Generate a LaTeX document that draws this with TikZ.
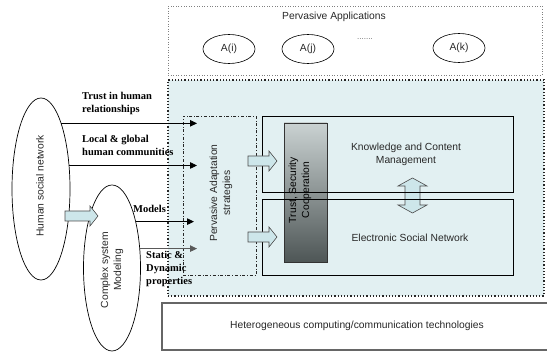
\documentclass[tikz,border=0pt]{standalone}
\usepackage{fontspec}
\setmainfont{Liberation Sans}
\newfontfamily\labelfont{Liberation Serif}
\usetikzlibrary{arrows.meta,shapes.geometric}

\definecolor{boxblue}{RGB}{226,240,242}
\definecolor{arrowblue}{RGB}{205,230,234}
\definecolor{trusttop}{RGB}{202,210,210}
\definecolor{trustbot}{RGB}{78,86,86}
\definecolor{txt}{RGB}{40,40,40}

\begin{document}
\begin{tikzpicture}[x=1pt,y=-1pt,
  sans/.style={font=\fontsize{10.3}{13}\selectfont, text=txt, inner sep=0},
  lbl/.style={font=\labelfont\bfseries\fontsize{10.5}{13}\selectfont, align=left, anchor=west, inner sep=0},
  app/.style={ellipse, draw, line width=0.6pt, minimum width=52pt, minimum height=29pt, inner sep=0, sans},
  bigell/.style={ellipse, draw, line width=0.7pt, fill=white, inner sep=0, outer sep=0},
  thinarr/.style={-{Triangle[length=7pt,width=6.5pt]}, line width=0.8pt},
  blockarr/.style={fill=arrowblue, draw=black!70, line width=0.6pt},
  panel/.style={draw, line width=0.8pt, inner sep=0, outer sep=0},
]
\useasboundingbox (0,0) rectangle (547,352);

% Pervasive applications
\node[draw=black!50, dotted, line width=0.6pt, minimum width=374pt, minimum height=69pt, inner sep=0] (apps) at (355,40.5) {};
\node[sans] (appstitle) at (334,17) {Pervasive Applications};
\node[app] (ai) at (229,49) {A(i)};
\node[app] (aj) at (308,49) {A(j)};
\node[app] (ak) at (459,48) {A(k)};
\node[font=\fontsize{8}{8}\selectfont, text=black!60, inner sep=0] (dots) at (365,39) {.......};

% Big blue region
\node[draw=black!85, dotted, line width=1.2pt, fill=boxblue, minimum width=376pt, minimum height=216pt, inner sep=0] (region) at (356,188) {};

% Trust box
\node[draw=black!80, line width=0.7pt, top color=trusttop, bottom color=trustbot, minimum width=43pt, minimum height=139pt, inner sep=0] (trust) at (305.5,192.5) {};

% double arrow
\filldraw[blockarr] (412.5,178) -- (427,186) -- (420,186) -- (420,205) -- (427,205) -- (412.5,213) -- (398,205) -- (405,205) -- (405,186) -- (398,186) -- cycle;

% Knowledge and ESN
\node[panel, minimum width=251pt, minimum height=76pt] (km) at (387.5,154) {};
\node[panel, minimum width=251pt, minimum height=76pt] (esn) at (387.5,237) {};
\node[sans, align=center] (kmtext) at (406,154.5) {Knowledge and Content\\Management};
\node[sans] (esntext) at (410,238) {Electronic Social Network};
\node[sans, rotate=90, align=center, text=black] (trusttext) at (300,190) {Trust, Security\\Cooperation};

% Adaptation box
\node[draw=black!85, dash dot, line width=0.6pt, minimum width=73pt, minimum height=159pt, inner sep=0] (adapt) at (219.5,195.5) {};
\node[sans, rotate=90, align=center] (adapttext) at (221,193) {Pervasive Adaptation\\strategies};

% block arrows into panels
\filldraw[blockarr] (248,156) -- (269,156) -- (269,151) -- (277,161) -- (269,171) -- (269,166) -- (248,166) -- cycle;
\filldraw[blockarr] (248,232) -- (269,232) -- (269,227) -- (277,237) -- (269,247) -- (269,242) -- (248,242) -- cycle;

% Heterogeneous
\node[draw=black!60, line width=1.3pt, fill=white, minimum width=390pt, minimum height=47pt, inner sep=0] (het) at (357,326.5) {};
\node[sans] (hettext) at (357,326) {Heterogeneous computing/communication technologies};

% Ellipses
\node[bigell, minimum width=58pt, minimum height=182pt] (hsn) at (41,189) {};
\node[sans, rotate=90] (hsntext) at (40,186) {Human social network};
\node[bigell, minimum width=57pt, minimum height=166pt] (csm) at (112,268) {};
\node[sans, rotate=90, align=center] (csmtext) at (112,270) {Complex system\\Modeling};

% block arrow hsn -> csm
\filldraw[blockarr] (65,211) -- (90,211) -- (90,206) -- (98,216) -- (90,226) -- (90,221) -- (65,221) -- cycle;

% thin arrows
\coordinate (tipA) at (197,0);
\coordinate (tipB) at (194,0);
\draw[thinarr] (hsn.73) -- (hsn.73 -| tipA);
\draw[thinarr] (hsn.40.6) -- (hsn.40.6 -| tipA);
\draw[thinarr] (csm.63.4) -- (csm.63.4 -| tipB);
\draw[thinarr, draw=black!65, fill=black!80] (csm.35.8) -- (csm.35.8 -| tipA);

% labels
\node[lbl] (l1) at (82,103.5) {Trust in human\\relationships};
\node[lbl] (l2) at (82,145) {Local \& global\\human communities};
\node[lbl] (l3) at (133,209) {Models};
\node[lbl] (l4) at (146,269) {Static \&\\Dynamic\\properties};
\end{tikzpicture}
\end{document}
